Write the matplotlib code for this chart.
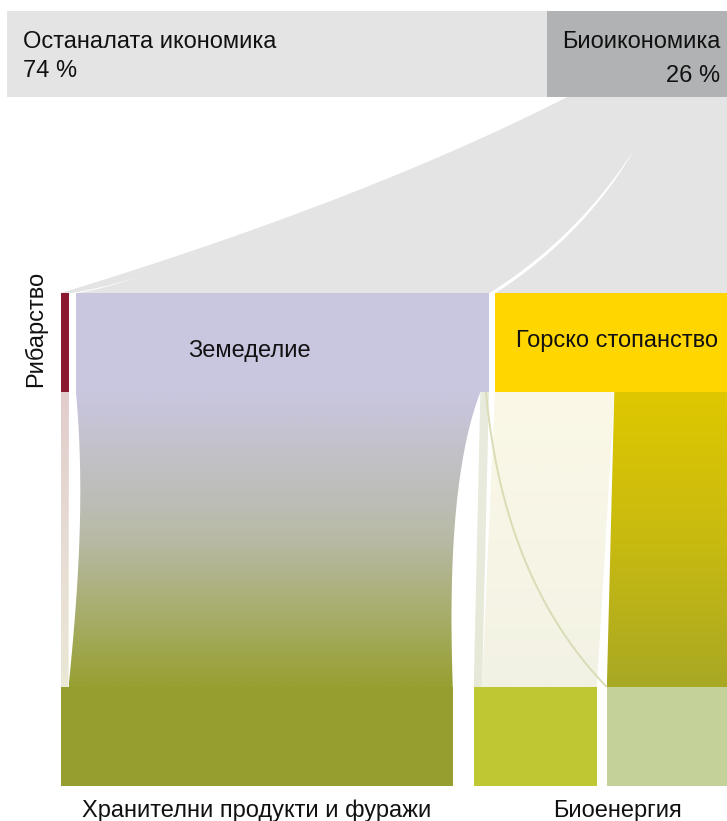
import numpy as np
import matplotlib
matplotlib.use('Agg')
import matplotlib.pyplot as plt
from matplotlib.patches import Polygon, Rectangle
from matplotlib.colors import LinearSegmentedColormap

# ---------------- data ----------------
economy_labels = ['Останалата икономика', 'Биоикономика']
economy_share = [74, 26]
sector_labels = ['Рибарство', 'Земеделие', 'Горско стопанство']
sector_share = [1.2, 62.3, 36.5]
product_labels = ['Хранителни продукти и фуражи', 'Биоенергия']
product_box_share = [60.8, 19.1, 20.2]
product_box_group = [0, 1, 1]
flow_source = [0, 1, 1, 2, 2]
flow_target = [0, 0, 1, 1, 2]
flow_value = [1.2, 61.0, 1.3, 18.0, 18.5]

# ---------------- style / layout ----------------
economy_colors = ['#e3e4e3', '#b1b2b3']
funnel_color = '#e3e4e3'
sector_colors = ['#8b1a30', '#c9c6e0', '#ffd600']
product_colors = ['#969e2f', '#bfc832', '#c4d29a']
flow_gradients = [
    ['#e2cccc', '#e6dcd4', '#ebe8d6'],
    ['#c9c6e0', '#b8baa6', '#97a031'],
    ['#e9ebdf', '#e8eadb', '#e6e8d8'],
    ['#fbf8e6', '#f7f5e6', '#f2f2e4'],
    ['#dfc800', '#c8ba10', '#a8a823'],
]
text_color = '#111111'
FONT = ['Liberation Sans', 'DejaVu Sans']
FS = 17

W, H = 727, 821
CHART_L, CHART_R = 7, 737
TOP_Y = (11, 97)
SECT_Y = (293, 392)
PROD_Y = (687, 786)
ROW_X0 = 61
sector_gaps = [7, 6]
product_gaps = [21, 10]


def stack(values, x0, x1, gaps):
    scale = (x1 - x0 - sum(gaps)) / sum(values)
    out, x = [], x0
    for i, v in enumerate(values):
        out.append((x, x + v * scale))
        x += v * scale + (gaps[i] if i < len(gaps) else 0)
    return out


def quad(p0, c, p1, n=80):
    t = np.linspace(0, 1, n)[:, None]
    return (1 - t) ** 2 * np.array(p0) + 2 * (1 - t) * t * np.array(c) + t ** 2 * np.array(p1)


def cubic(p0, c1, c2, p1, n=80):
    t = np.linspace(0, 1, n)[:, None]
    p0, c1, c2, p1 = map(np.array, (p0, c1, c2, p1))
    return ((1 - t) ** 3 * p0 + 3 * (1 - t) ** 2 * t * c1
            + 3 * (1 - t) * t ** 2 * c2 + t ** 3 * p1)


fig = plt.figure(figsize=(W / 100, H / 100), dpi=100)
ax = fig.add_axes([0, 0, 1, 1])
ax.set_xlim(0, W)
ax.set_ylim(H, 0)
ax.axis('off')

# ---- top bar ----
eco_pos = stack(economy_share, CHART_L, CHART_R, [0])
for (l, r), c in zip(eco_pos, economy_colors):
    ax.add_patch(Rectangle((l, TOP_Y[0]), r - l, TOP_Y[1] - TOP_Y[0], color=c, lw=0))

# ---- sector / product boxes positions ----
sect_pos = stack(sector_share, ROW_X0, CHART_R, sector_gaps)
prod_pos = stack(product_box_share, ROW_X0, CHART_R, product_gaps)

# ---- funnel from bioeconomy to sectors ----
bio_l = eco_pos[1][0] + 20
edge = quad((sect_pos[0][0], SECT_Y[0]), (365, 200), (bio_l, TOP_Y[1]))
funnel = np.vstack([edge, [[CHART_R, TOP_Y[1]], [CHART_R, SECT_Y[0]]]])
ax.add_patch(Polygon(funnel, closed=True, color=funnel_color, lw=0))


def white_wedge(p0, c, gap_l, gap_r, power):
    p1 = ((gap_l + gap_r) / 2, SECT_Y[0] + 0.5)
    t = np.linspace(0, 1, 80)
    cen = quad(p0, c, p1)
    w = (gap_r - gap_l) * t ** power
    left = np.column_stack([cen[:, 0] - w / 2, cen[:, 1]])
    right = np.column_stack([cen[:, 0] + w / 2, cen[:, 1]])
    ax.add_patch(Polygon(np.vstack([left, right[::-1]]), closed=True,
                         color='white', lw=0))


white_wedge((632, 153), (580, 237), sect_pos[1][1], sect_pos[2][0], 0.6)
white_wedge((145, 275), (105, 288), sect_pos[0][1], sect_pos[1][0], 1.2)

# ---- sector boxes ----
for (l, r), c in zip(sect_pos, sector_colors):
    ax.add_patch(Rectangle((l, SECT_Y[0]), r - l, SECT_Y[1] - SECT_Y[0], color=c, lw=0))

# ---- flows ----
src_x = {}
for s in range(len(sector_share)):
    idx = [i for i, fs in enumerate(flow_source) if fs == s]
    tot = sum(flow_value[i] for i in idx)
    l, r = sect_pos[s]
    x = l
    for i in idx:
        w = flow_value[i] / tot * (r - l)
        src_x[i] = (x, x + w)
        x += w
tgt_x = {}
for b in range(len(product_box_share)):
    idx = [i for i, ft in enumerate(flow_target) if ft == b]
    tot = sum(flow_value[i] for i in idx)
    l, r = prod_pos[b]
    x = l
    for i in idx:
        w = flow_value[i] / tot * (r - l)
        tgt_x[i] = (x, x + w)
        x += w

y0, y1 = SECT_Y[1], PROD_Y[0]
h = y1 - y0
for i in range(len(flow_value)):
    tl, tr = src_x[i]
    bl, br = tgt_x[i]
    if i == 1:
        left = cubic((tl, y0), (tl + 8, y0 + 0.3 * h), (bl + 12, y0 + 0.6 * h), (bl, y1))
        right = cubic((tr, y0), (br - 3, y0 + 0.27 * h), (br - 3, y0 + 0.7 * h), (br, y1))
    else:
        left = np.array([[tl, y0], [bl, y1]])
        right = np.array([[tr, y0], [br, y1]])
    poly = np.vstack([left, right[::-1]])
    patch = Polygon(poly, closed=True, facecolor='none', edgecolor='none')
    ax.add_patch(patch)
    cmap = LinearSegmentedColormap.from_list('g%d' % i, flow_gradients[i])
    grad = np.linspace(0, 1, 256)[:, None]
    xmin, xmax = poly[:, 0].min(), poly[:, 0].max()
    im = ax.imshow(grad, cmap=cmap, aspect='auto', origin='upper',
                   extent=(xmin, xmax, y1, y0), interpolation='bilinear')
    im.set_clip_path(patch)
    if i == 3:
        line = quad((tl - 9, y0), (503, 580), (br + 10, y1))
        ax.plot(line[:, 0], line[:, 1], color='#dadcb6', lw=1.4,
                solid_capstyle='butt')

# ---- product boxes ----
for (l, r), c in zip(prod_pos, product_colors):
    ax.add_patch(Rectangle((l, PROD_Y[0]), r - l, PROD_Y[1] - PROD_Y[0], color=c, lw=0))

ax.set_xlim(0, W)
ax.set_ylim(H, 0)

# ---- texts ----
tk = dict(fontsize=FS, family=FONT, color=text_color)
ax.text(23, 48, economy_labels[0], ha='left', va='baseline', **tk)
ax.text(23, 77, f'{economy_share[0]} %', ha='left', va='baseline', **tk)
ax.text(720, 48, economy_labels[1], ha='right', va='baseline', **tk)
ax.text(720, 82, f'{economy_share[1]} %', ha='right', va='baseline', **tk)

ax.text(36, SECT_Y[1] - 5, sector_labels[0], rotation=90, ha='center', va='bottom', **tk)
al, ar = sect_pos[1]
ax.text(al + 0.42 * (ar - al), 357, sector_labels[1], ha='center', va='baseline', **tk)
ax.text(sect_pos[2][0] + 21, 347, sector_labels[2], ha='left', va='baseline', **tk)

fl, fr = prod_pos[0]
ax.text((fl + fr) / 2, 817, product_labels[0], ha='center', va='baseline', **tk)
bl_, br_ = prod_pos[1][0], prod_pos[2][1]
ax.text((bl_ + br_) / 2 + 12, 817, product_labels[1], ha='center', va='baseline', **tk)

fig.savefig('out.png', dpi=100)
